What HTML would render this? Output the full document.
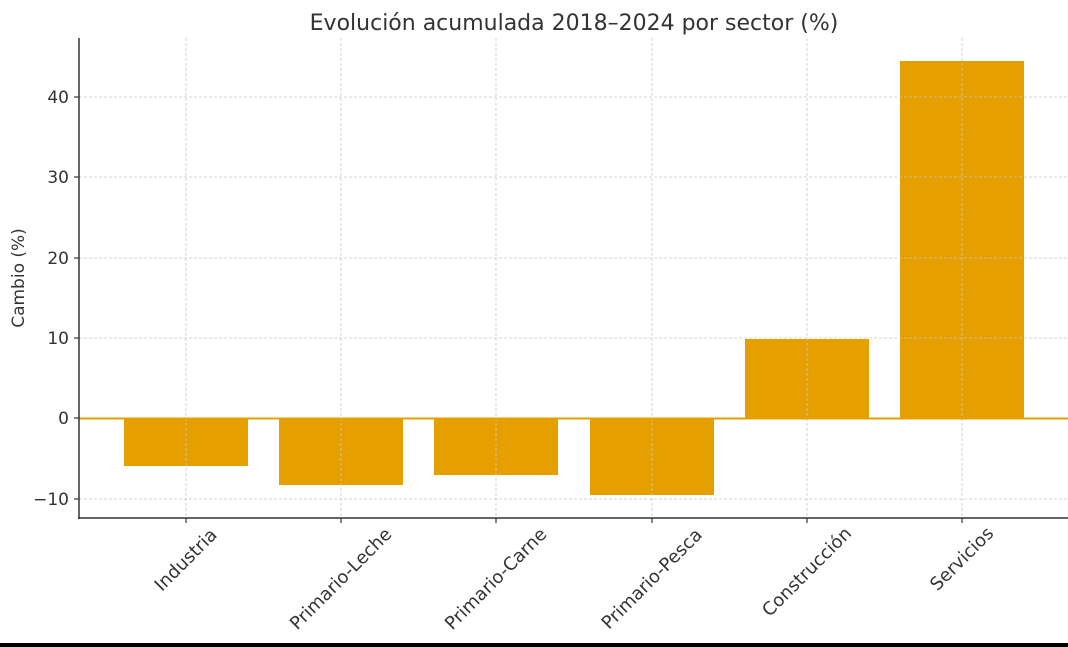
<!DOCTYPE html>
<html><head><meta charset="utf-8"><style>body{margin:0;background:#fff}svg{display:block}</style></head>
<body>
<svg width="1068" height="647" xmlns="http://www.w3.org/2000/svg" font-family="'DejaVu Sans', 'Liberation Sans', sans-serif">
<rect width="1068" height="647" fill="#fff"/>
<text x="574" y="30" font-size="22" fill="#333" text-anchor="middle">Evolución acumulada 2018–2024 por sector (%)</text>
<g fill="#E5A000">
<rect x="124" y="418" width="124" height="48"/>
<rect x="279" y="418" width="124" height="67"/>
<rect x="434" y="418" width="124" height="57"/>
<rect x="590" y="418" width="124" height="77"/>
<rect x="745" y="339" width="124" height="79"/>
<rect x="900" y="61" width="124" height="357"/>
</g>
<g stroke="#c8c8c8" stroke-width="0.8" stroke-dasharray="3,2">
<line x1="79" x2="1068" y1="499" y2="499"/>
<line x1="79" x2="1068" y1="338" y2="338"/>
<line x1="79" x2="1068" y1="258" y2="258"/>
<line x1="79" x2="1068" y1="177" y2="177"/>
<line x1="79" x2="1068" y1="97" y2="97"/>
<line x1="186" x2="186" y1="38" y2="518"/>
<line x1="341" x2="341" y1="38" y2="518"/>
<line x1="496" x2="496" y1="38" y2="518"/>
<line x1="652" x2="652" y1="38" y2="518"/>
<line x1="807" x2="807" y1="38" y2="518"/>
<line x1="962" x2="962" y1="38" y2="518"/>
</g>
<line x1="79" x2="1068" y1="418.5" y2="418.5" stroke="#E5A000" stroke-width="2"/>
<line x1="79" x2="79" y1="38" y2="519" stroke="#333" stroke-width="1.5"/>
<line x1="78" x2="1068" y1="518" y2="518" stroke="#333" stroke-width="1.5"/>
<g stroke="#333" stroke-width="1.2">
<line x1="74" x2="79" y1="499" y2="499"/><line x1="74" x2="79" y1="418" y2="418"/><line x1="74" x2="79" y1="338" y2="338"/><line x1="74" x2="79" y1="258" y2="258"/><line x1="74" x2="79" y1="177" y2="177"/><line x1="74" x2="79" y1="97" y2="97"/>
<line x1="186" x2="186" y1="518" y2="523"/><line x1="341" x2="341" y1="518" y2="523"/><line x1="496" x2="496" y1="518" y2="523"/><line x1="652" x2="652" y1="518" y2="523"/><line x1="807" x2="807" y1="518" y2="523"/><line x1="962" x2="962" y1="518" y2="523"/>
</g>
<g font-size="17" fill="#333" text-anchor="end">
<text x="69" y="505">−10</text><text x="69" y="424">0</text><text x="69" y="344">10</text><text x="69" y="264">20</text><text x="69" y="183">30</text><text x="69" y="103">40</text>
</g>
<text transform="translate(24,278) rotate(-90)" font-size="17" fill="#333" text-anchor="middle">Cambio (%)</text>
<g font-size="18" fill="#333" text-anchor="middle">
<text transform="translate(190,564) rotate(-45)">Industria</text>
<text transform="translate(345,583) rotate(-45)">Primario-Leche</text>
<text transform="translate(500,583) rotate(-45)">Primario-Carne</text>
<text transform="translate(656,583) rotate(-45)">Primario-Pesca</text>
<text transform="translate(811,576) rotate(-45)">Construcción</text>
<text transform="translate(966,563) rotate(-45)">Servicios</text>
</g>
<rect x="0" y="643" width="1068" height="4" fill="#000"/>
</svg>
</body></html>
